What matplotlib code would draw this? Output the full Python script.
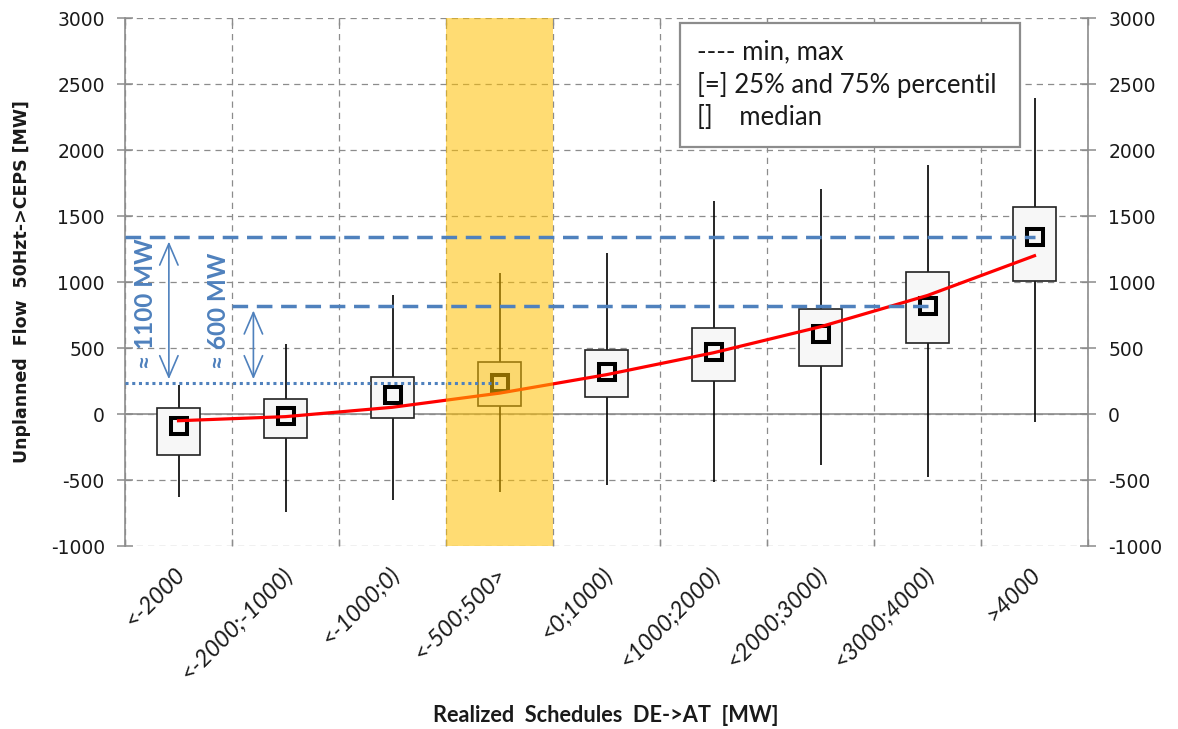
import matplotlib.pyplot as plt
import numpy as np
from matplotlib.patches import Rectangle
from matplotlib.transforms import offset_copy

plt.rcParams["axes.unicode_minus"] = False

# Kategorie a hodnoty
categories = ["<-2000", "<-2000;-1000)", "<-1000;0)", "<-500;500>", "<0;1000)",
              "<1000;2000)", "<2000;3000)", "<3000;4000)", ">4000"]
flow_min = [-625, -742, -653, -594, -536, -518, -390, -480, -63]
flow_max = [222, 528, 898, 1065, 1222, 1617, 1704, 1883, 2391]
flow_q25 = [-310, -181, -33, 57, 128, 247, 367, 541, 1009]
flow_q75 = [45, 115, 278, 395, 482, 648, 796, 1074, 1568]
flow_median = [-89, -15, 145, 232, 321, 469, 605, 816, 1338]
trend = [-51, -20, 51, 158, 298, 464, 661, 898, 1199]
yticks = list(range(-1000, 3001, 500))
legend_lines = ["---- min, max", "[=] 25% and 75% percentil", "[]    median"]

BLUE = "#4F81BD"
GRID = "#8c8c8c"
TXT = "#1a1a1a"

x = np.arange(len(categories))

fig = plt.figure(figsize=(11.78, 7.29), dpi=100)
ax = fig.add_axes([125 / 1178, 1 - 546 / 729, (1088 - 125) / 1178, 528 / 729])
ax.set_xlim(-0.5, len(categories) - 0.5)
ax.set_ylim(-1000, 3000)

# mřížka
ax.set_yticks(yticks)
ax.set_xticks(np.arange(-0.5, len(categories), 1))
ax.set_xticklabels([])
ax.grid(True, which="major", color=GRID, lw=0.9, linestyle=(0, (5, 4)), zorder=0)
ax.set_axisbelow(True)
for side in ["top", "bottom"]:
    ax.spines[side].set_visible(False)
for side in ["left", "right"]:
    ax.spines[side].set_color(GRID)
    ax.spines[side].set_linewidth(1.2)
ax.axhline(0, color=GRID, lw=1.2, zorder=1)

ax.tick_params(axis="y", direction="inout", length=11, width=1.1, color=GRID,
               labelsize=13.5, labelcolor=TXT, pad=9)
ax.tick_params(axis="x", which="major", direction="in", length=5, width=1.0,
               color=GRID, top=True, bottom=True)
ax.set_xticks(x, minor=True)
ax.set_xticklabels(categories, minor=True)
ax.tick_params(axis="x", which="minor", length=0, pad=6)
for lab in ax.get_xticklabels(minor=True):
    lab.set_rotation(45)
    lab.set_ha("right")
    lab.set_va("center")
    lab.set_rotation_mode("anchor")
    lab.set_fontfamily("Lato")
    lab.set_fontstyle("italic")
    lab.set_fontsize(16.7)
    lab.set_color(TXT)
    lab.set_transform(offset_copy(lab.get_transform(), fig=fig, x=3, y=-17, units="dots"))

ax2 = ax.twinx()
ax2.set_ylim(ax.get_ylim())
ax2.set_yticks(yticks)
ax2.tick_params(axis="y", direction="inout", length=11, width=1.1, color=GRID,
                labelsize=13.5, labelcolor=TXT, pad=9)
for side in ["top", "bottom", "left", "right"]:
    ax2.spines[side].set_visible(False)

# krabicové grafy
ax.vlines(x, flow_min, flow_max, color="black", lw=1.2, zorder=2)
ax.bar(x, np.array(flow_q75) - np.array(flow_q25), bottom=flow_q25, width=0.4,
       color="#f7f7f7", edgecolor="#222222", lw=1.2, zorder=3)
ax.plot(x, flow_median, "s", ms=11.5, mfc="#f7f7f7", mec="black", mew=2.9, zorder=4)
ax.plot(x, trend, color="red", lw=2.3, zorder=4.5)

# zvýrazněný interval
ax.axvspan(2.5, 3.5, color="#FFC000", alpha=0.55, lw=0, zorder=5)

# modré pomocné čáry
ax.hlines(flow_median[8], -0.5, 8, color=BLUE, lw=2.5, linestyle=(0, (4.5, 2.5)), zorder=6)
ax.hlines(flow_median[7], 0.5, 7, color=BLUE, lw=2.5, linestyle=(0, (4.5, 2.5)), zorder=6)
ax.hlines(flow_median[3], -0.5, 3, color=BLUE, lw=2.2, linestyle=(0, (1, 1.2)), zorder=6)

arrow = dict(arrowstyle="<->,head_length=0.7,head_width=0.3", color=BLUE, lw=1.2,
             shrinkA=3, shrinkB=3, mutation_scale=22)
ax.annotate("", xy=(-0.09, flow_median[3]), xytext=(-0.09, flow_median[8]),
            arrowprops=arrow, zorder=6)
ax.annotate("", xy=(0.7, flow_median[3]), xytext=(0.7, flow_median[7]),
            arrowprops=arrow, zorder=6)
ax.text(-0.31, (flow_median[3] + flow_median[8]) / 2 + 50,
        "≈ %d MW" % 1100, rotation=90, color=BLUE, fontweight="bold", fontsize=17.5,
        family=["Lato", "DejaVu Sans"], ha="center", va="center", zorder=7)
ax.text(0.37, (flow_median[3] + flow_median[7]) / 2 + 260,
        "≈ %d MW" % 600, rotation=90, color=BLUE, fontweight="bold", fontsize=17.5,
        family=["Lato", "DejaVu Sans"], ha="center", va="center", zorder=7)

# legenda
ax.add_patch(Rectangle((0.576, 0.756), 0.353, 0.234, transform=ax.transAxes,
                       fc="white", ec=GRID, lw=1.6, zorder=10))
for i, line in enumerate(legend_lines):
    ax.text(0.594, 0.936 - i * 0.0625, line, transform=ax.transAxes, fontsize=18.5,
            family="Lato", color=TXT, ha="left", va="center", zorder=11)

# popisky os
fig.text(22 / 1178, 1 - 282 / 729, "Unplanned  Flow  50Hzt->CEPS [MW]", rotation=90,
         ha="center", va="center", fontsize=12.5, fontweight="bold", color=TXT)
fig.text(606 / 1178, 1 - 715 / 729, "Realized  Schedules  DE->AT  [MW]",
         ha="center", va="center", fontsize=15.7, fontweight="bold", family="Lato", color=TXT)

fig.savefig("out.png", dpi=100)
